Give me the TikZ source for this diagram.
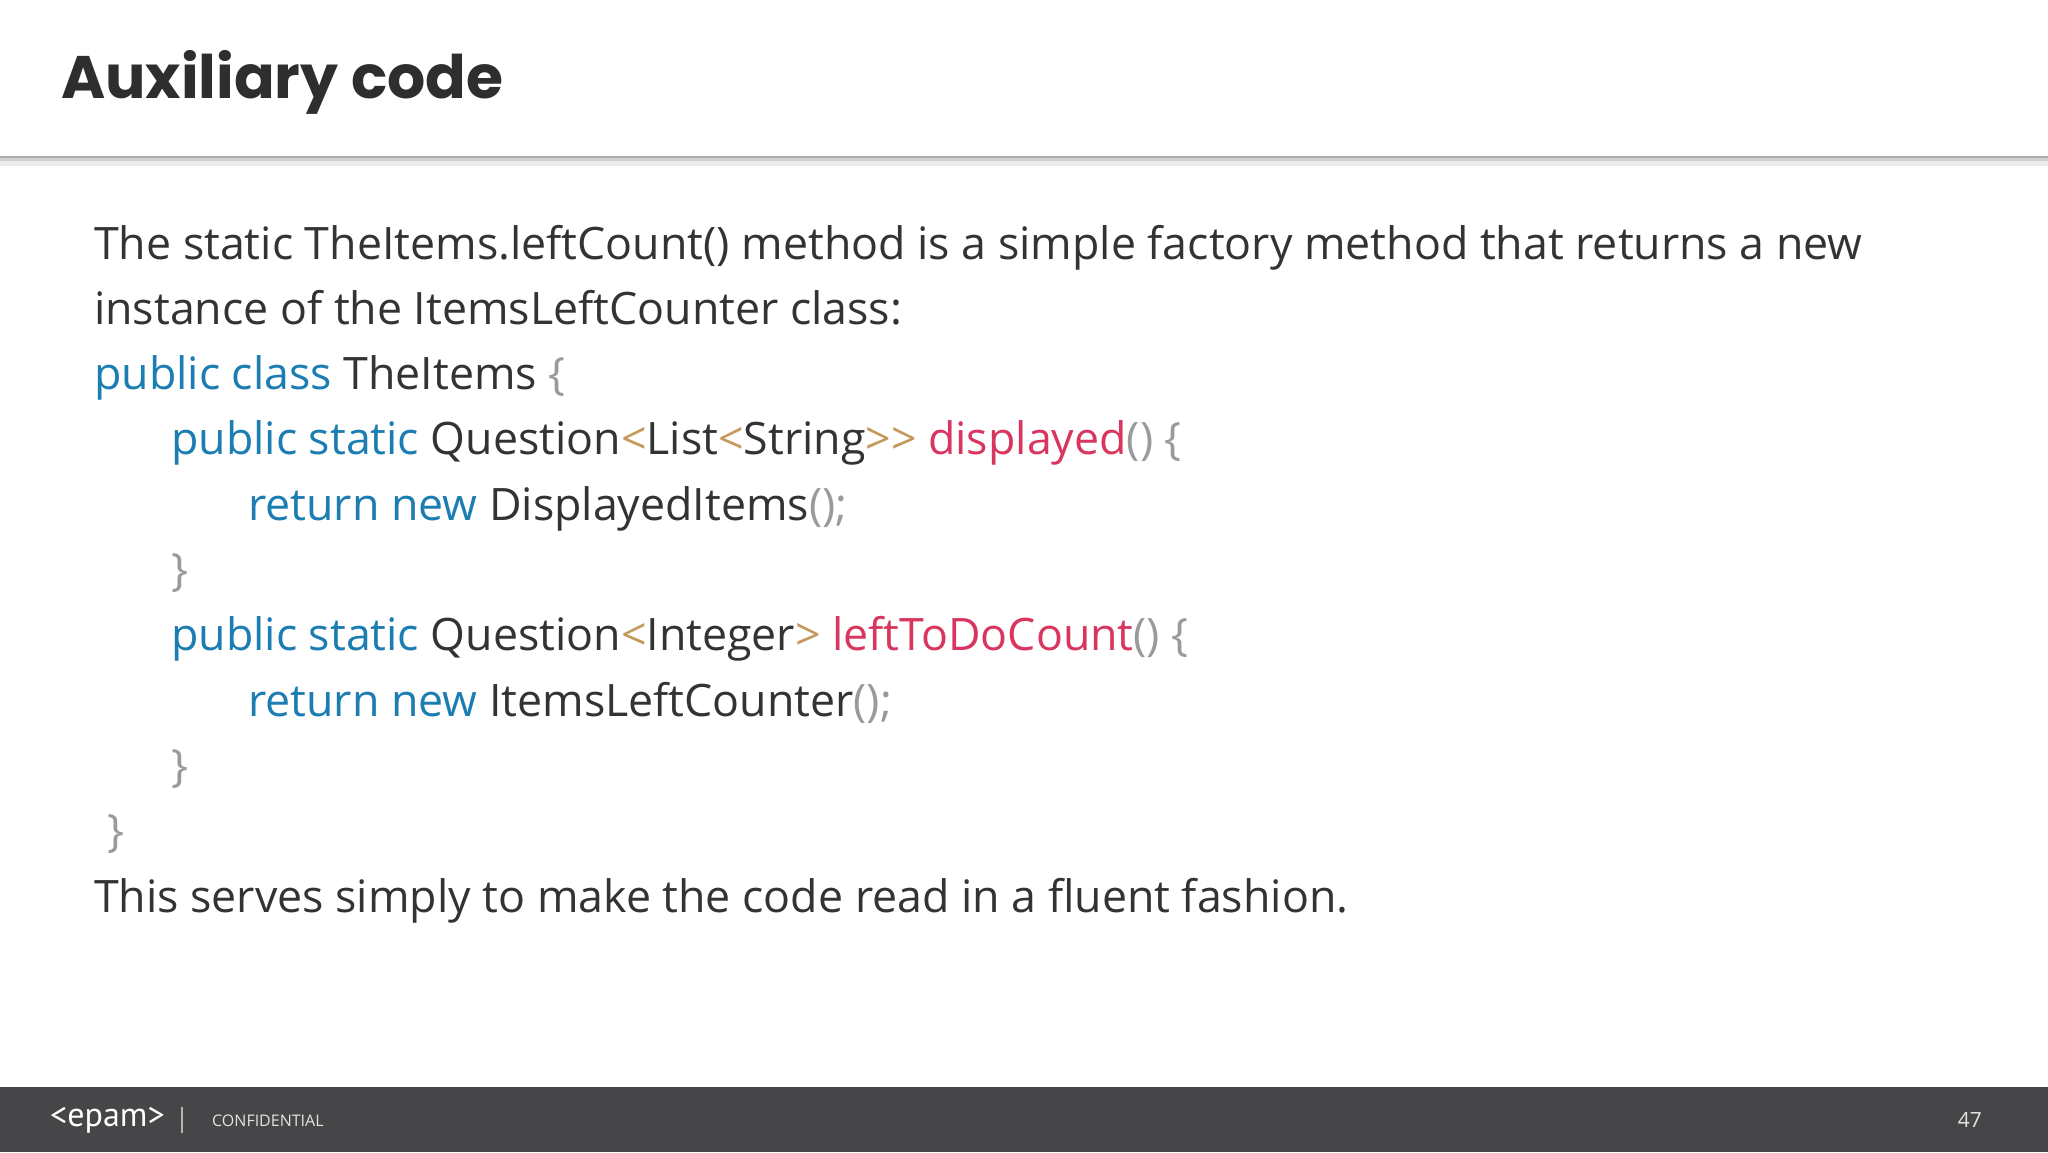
\documentclass[tikz,border=0pt]{standalone}
\usepackage{fontspec}
\setmainfont{Open Sans}
\newfontfamily\titlefont{Poppins}
\newfontfamily\logofont{PT Sans}
\definecolor{txt}{HTML}{333333}
\definecolor{kw}{HTML}{1B7DB1}
\definecolor{fn}{HTML}{D8365F}
\definecolor{br}{HTML}{9A9A9A}
\definecolor{ang}{HTML}{C49A5C}
\definecolor{foot}{HTML}{464547}
\newcommand{\K}[1]{\textcolor{kw}{#1}}
\newcommand{\F}[1]{\textcolor{fn}{#1}}
\newcommand{\B}[1]{\textcolor{br}{#1}}
\newcommand{\A}[1]{\textcolor{ang}{#1}}
\begin{document}
\begin{tikzpicture}[x=1pt,y=-1pt,
  line/.style={anchor=base west,inner sep=0pt,text=txt,font=\fontsize{44.7}{50}\selectfont}]
\useasboundingbox (0,0) rectangle (2048,1152);
\fill[white] (0,0) rectangle (2048,1152);
\fill[black!8] (0,157) rectangle (2048,166);
\fill[black!18] (0,157) rectangle (2048,161);
\fill[black!32] (0,156) rectangle (2048,158);
\node[anchor=base west,inner sep=0pt,text=txt!90!black,font=\titlefont\bfseries\fontsize{60}{64}\selectfont] (title) at (61,98) {Auxiliary code};
\node[line] (l1) at (94,259) {The static TheItems.leftCount() method is a simple factory method that returns a new};
\node[line] (l2) at (94,324) {instance of the ItemsLeftCounter class:};
\node[line] (l3) at (94,389) {\K{public class} TheItems \B{\{}};
\node[line] (l4) at (171,454) {\K{public static} Question\A{<}List\A{<}String\A{>{}>} \F{displayed}\B{() \{}};
\node[line] (l5) at (248,520) {\K{return new} DisplayedItems\B{();}};
\node[line] (l6) at (171,585) {\B{\}}};
\node[line] (l7) at (171,650) {\K{public static} Question\A{<}Integer\A{>} \F{leftToDoCount}\B{() \{}};
\node[line] (l8) at (248,716) {\K{return new} ItemsLeftCounter\B{();}};
\node[line] (l9) at (171,781) {\B{\}}};
\node[line] (l10) at (107,846) {\B{\}}};
\node[line] (l11) at (94,912) {This serves simply to make the code read in a fluent fashion.};
\fill[foot] (0,1087) rectangle (2048,1152);
\node[anchor=west,inner sep=0pt,text=white,font=\logofont\fontsize{34}{34}\selectfont] (logo) at (50,1120) {<epam>};
\draw[white!60!foot,line width=1.2pt] (182,1107) -- (182,1133);
\node[anchor=west,inner sep=0pt,text=white!85!foot,font=\fontsize{16}{16}\selectfont] (conf) at (212,1121) {CONFIDENTIAL};
\node[anchor=east,inner sep=0pt,text=white!85!foot,font=\fontsize{21}{21}\selectfont] (pg) at (1982,1120) {47};
\end{tikzpicture}
\end{document}
